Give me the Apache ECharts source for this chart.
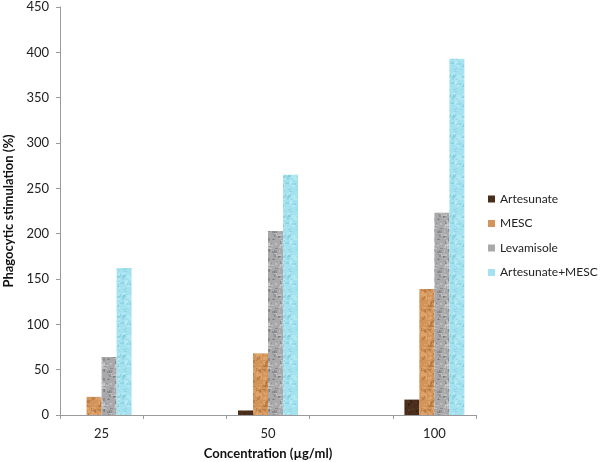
<!DOCTYPE html>
<html><head><meta charset="utf-8">
<script src="https://cdn.jsdelivr.net/npm/echarts@6/dist/echarts.min.js"></script>
<style>html,body{margin:0;padding:0;background:#fff}#c{width:600px;height:462px}</style>
</head><body><div id="c"></div>
<script>
var categories = ['25', '', '50', '', '100'];
var artesunate = [null, null, 5, null, 17];
var mesc = [20, null, 68, null, 139];
var levamisole = [64, null, 203, null, 223];
var artMesc = [162, null, 265, null, 393];
var seriesNames = ['Artesunate', 'MESC', 'Levamisole', 'Artesunate+MESC'];
var yTicks = [0, 50, 100, 150, 200, 250, 300, 350, 400, 450];

function texture(base, dark, light, seed) {
  var c = document.createElement('canvas');
  c.width = 15; c.height = 20;
  var g = c.getContext('2d');
  g.fillStyle = base; g.fillRect(0, 0, 15, 20);
  var s = seed;
  function r() { s = (s * 1103515245 + 12345) % 2147483648; return s / 2147483648; }
  for (var i = 0; i < 40; i++) {
    g.fillStyle = r() < 0.5 ? dark : light;
    g.globalAlpha = 0.5;
    var w = 1 + Math.floor(r() * 3), h = 1 + Math.floor(r() * 3);
    g.fillRect(Math.floor(r() * 15), Math.floor(r() * 20), w, h);
  }
  return c;
}
var cols = [
  {image: texture('#4a2e1c', '#2e1a0e', '#5e3c26', 7), repeat: 'repeat'},
  {image: texture('#d39459', '#a86a38', '#e6b07a', 11), repeat: 'repeat'},
  {image: texture('#a9a9ab', '#707074', '#d4d4d6', 23), repeat: 'repeat'},
  {image: texture('#a3e2ee', '#7cc6d6', '#c8f0f6', 31), repeat: 'repeat'}
];
var legendCols = ['#4a2e1c', '#d39459', '#a9a9ab', '#a3e2ee'];
var dataSets = [artesunate, mesc, levamisole, artMesc];

var chart = echarts.init(document.getElementById('c'), null, {renderer: 'canvas'});
var font = 'Lato, "Open Sans", sans-serif';
chart.setOption({
  animation: false,
  backgroundColor: '#fff',
  textStyle: {fontFamily: font},
  grid: {left: 60, right: 124, top: 7, bottom: 47, containLabel: false, outerBoundsMode: 'none'},
  legend: {
    orient: 'vertical', left: 488, top: 193, itemWidth: 7, itemHeight: 7, itemGap: 12.5,
    icon: 'rect', padding: 0,
    textStyle: {fontSize: 12, color: '#222', fontFamily: font},
    data: seriesNames.map(function (n, i) { return {name: n, itemStyle: {color: legendCols[i]}}; })
  },
  xAxis: {
    type: 'category', data: categories,
    name: 'Concentration (µg/ml)', nameLocation: 'middle', nameGap: 32,
    nameTextStyle: {fontWeight: 'bold', fontSize: 13, color: '#111'},
    axisLine: {lineStyle: {color: '#9a9a9a', width: 1}},
    axisTick: {show: true, length: 4, lineStyle: {color: '#9a9a9a'}},
    axisLabel: {fontSize: 13, color: '#222', margin: 12, interval: 0}
  },
  yAxis: {
    type: 'value', min: yTicks[0], max: yTicks[yTicks.length - 1], interval: 50,
    name: 'Phagocytic stimulation (%)', nameLocation: 'middle', nameGap: 42,
    nameTextStyle: {fontWeight: 'bold', fontSize: 13, color: '#111'},
    axisLine: {show: true, lineStyle: {color: '#9a9a9a', width: 1}},
    axisTick: {show: true, length: 4, lineStyle: {color: '#9a9a9a'}},
    splitLine: {show: false},
    axisLabel: {fontSize: 13, color: '#222', margin: 11}
  },
  series: seriesNames.map(function (n, i) {
    return {
      name: n, type: 'bar', data: dataSets[i], barWidth: 15, barGap: '0%',
      itemStyle: {color: cols[i]}
    };
  })
});
</script></body></html>
